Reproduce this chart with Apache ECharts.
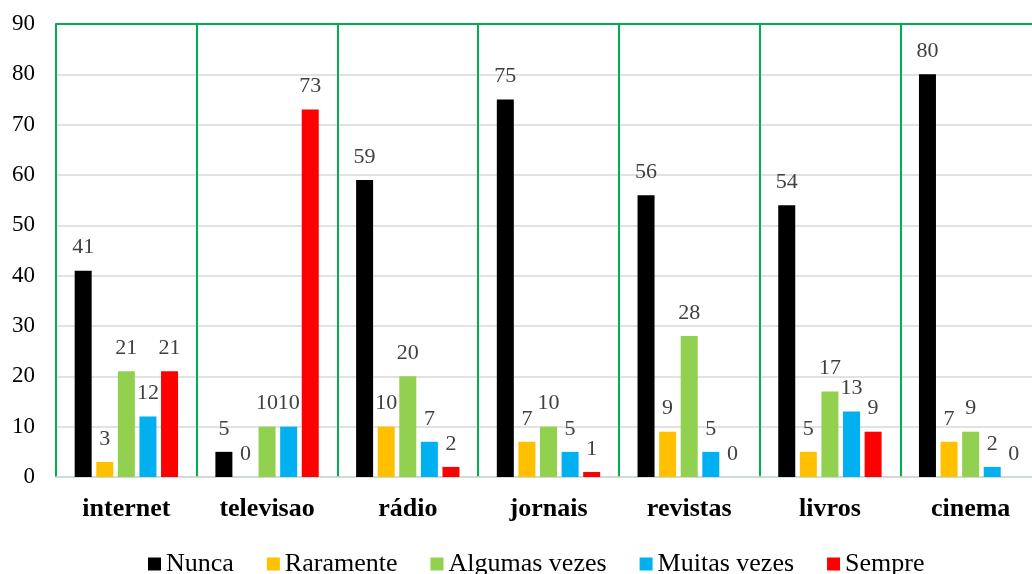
<!DOCTYPE html>
<html><head><meta charset="utf-8">
<script src="https://cdn.jsdelivr.net/npm/echarts@6/dist/echarts.min.js"></script>
<style>html,body{margin:0;padding:0;background:#fff}#c{width:1032px;height:574px}</style>
</head><body><div id="c"></div>
<script>
const categories = ['internet','televisao','rádio','jornais','revistas','livros','cinema'];
const seriesNames = ['Nunca','Raramente','Algumas vezes','Muitas vezes','Sempre'];
const nunca = [41,5,59,75,56,54,80];
const raramente = [3,0,10,7,9,5,7];
const algumas = [21,10,20,10,28,17,9];
const muitas = [12,10,7,5,5,13,2];
const sempre = [21,73,2,1,0,9,0];
const colors = ['#000000','#FFC000','#92D050','#00B0F0','#FF0000'];
const values = [nunca, raramente, algumas, muitas, sempre];
const font = 'Liberation Serif';

const chart = echarts.init(document.getElementById('c'));
chart.setOption({
  animation: false,
  grid: {left: 56, top: 24, width: 985, height: 453, outerBoundsMode: 'none', containLabel: false},
  legend: {
    top: 546, left: 143, itemWidth: 13, itemHeight: 13, itemGap: 33,
    icon: 'rect',
    textStyle: {fontFamily: font, fontSize: 26, color: '#000'},
    data: seriesNames
  },
  xAxis: [{
    type: 'category', data: categories,
    axisLine: {lineStyle: {color: '#c9d9cf', width: 1.5}},
    axisTick: {show: false},
    axisLabel: {fontFamily: font, fontSize: 26, fontWeight: 'bold', color: '#000', margin: 19},
    splitLine: {show: true, lineStyle: {color: '#00B050', width: 2}}
  }, {
    type: 'category', data: categories, position: 'top',
    axisLine: {show: true, lineStyle: {color: '#00B050', width: 2}},
    axisTick: {show: false}, axisLabel: {show: false}
  }],
  yAxis: {
    type: 'value', min: 0, max: 90, interval: 10,
    axisLine: {show: false}, axisTick: {show: false},
    axisLabel: {fontFamily: font, fontSize: 23, color: '#000', margin: 21},
    splitLine: {lineStyle: {color: '#d9d9d9', width: 1.5}}
  },
  series: seriesNames.map((n, i) => ({
    name: n, type: 'bar', data: values[i],
    barWidth: 17, barGap: '27%',
    itemStyle: {color: colors[i]},
    label: {show: true, position: 'top', distance: 12, fontFamily: font, fontSize: 22, color: '#404040'}
  }))
});
</script></body></html>
